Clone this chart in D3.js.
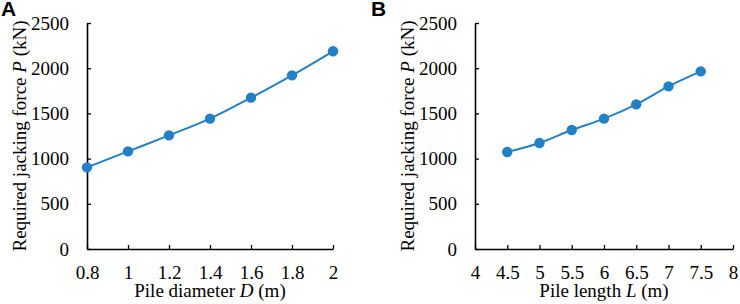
<!DOCTYPE html>
<html>
<head>
<meta charset="utf-8">
<script src="https://cdn.jsdelivr.net/npm/d3@7"></script>
<style>
  body { margin: 0; background: #fff; }
  svg { display: block; }
  .serif { font-family: "Liberation Serif", "DejaVu Serif", serif; }
</style>
</head>
<body>
<div id="chart"></div>
<script>
// Data
const diameters = [0.8, 1.0, 1.2, 1.4, 1.6, 1.8, 2.0];
const forceByDiameter = [903, 1080, 1257, 1442, 1674, 1921, 2187];
const lengths = [4.5, 5.0, 5.5, 6.0, 6.5, 7.0, 7.5];
const forceByLength = [1073, 1173, 1316, 1442, 1600, 1799, 1965];
const yTicks = [0, 500, 1000, 1500, 2000, 2500];
const xTicksA = [0.8, 1, 1.2, 1.4, 1.6, 1.8, 2];
const xTicksB = [4, 4.5, 5, 5.5, 6, 6.5, 7, 7.5, 8];

const width = 740, height = 304;
const lineColor = "#2380c5";

const svg = d3.select("#chart").append("svg")
    .attr("width", width)
    .attr("height", height);

/**
 * Draw one panel of the figure
 */
function drawPanel(opts) {
    const { left, right, top, bottom, xDomain, xTicks, xs, ys, letter, letterX, xLabel, xVar } = opts;

    const xScale = d3.scaleLinear().domain(xDomain).range([left, right]);
    const yScale = d3.scaleLinear().domain([0, 2500]).range([bottom, top]);

    const g = svg.append("g");

    // Axes (ticks pointing inside)
    const xAxis = g.append("g")
        .attr("transform", `translate(0,${bottom})`)
        .call(d3.axisBottom(xScale).tickValues(xTicks).tickSizeInner(-4).tickSizeOuter(0)
            .tickPadding(17).tickFormat(d3.format("")));
    const yAxis = g.append("g")
        .attr("transform", `translate(${left},0)`)
        .call(d3.axisLeft(yScale).tickValues(yTicks).tickSizeInner(-4).tickSizeOuter(0)
            .tickPadding(18).tickFormat(d3.format("")));

    [xAxis, yAxis].forEach(ax => {
        ax.attr("font-family", null).attr("font-size", null);
        ax.select(".domain").attr("stroke", "#000").attr("stroke-width", 1.6);
        ax.selectAll(".tick line").attr("stroke", "#000").attr("stroke-width", 1.3);
        ax.selectAll(".tick text")
            .attr("class", "serif")
            .attr("fill", "#000")
            .style("font-size", "19px");
    });

    // Data line (smoothed like the original)
    const pts = xs.map((x, i) => [x, ys[i]]);
    const line = d3.line()
        .x(d => xScale(d[0]))
        .y(d => yScale(d[1]))
        .curve(d3.curveCatmullRom);

    g.append("path")
        .datum(pts)
        .attr("fill", "none")
        .attr("stroke", lineColor)
        .attr("stroke-width", 2)
        .attr("d", line);

    g.selectAll("circle.pt")
        .data(pts)
        .enter().append("circle")
        .attr("class", "pt")
        .attr("cx", d => xScale(d[0]))
        .attr("cy", d => yScale(d[1]))
        .attr("r", 5.2)
        .attr("fill", lineColor);

    // X-axis label
    const xt = g.append("text")
        .attr("class", "serif")
        .attr("x", (left + right) / 2)
        .attr("y", 297)
        .attr("text-anchor", "middle")
        .style("font-size", "19px");
    xt.append("tspan").text(xLabel + " ");
    xt.append("tspan").attr("font-style", "italic").text(xVar);
    xt.append("tspan").text(" (m)");

    // Y-axis label
    const yt = g.append("text")
        .attr("class", "serif")
        .attr("transform", `translate(${left - 61},${(top + bottom) / 2}) rotate(-90)`)
        .attr("text-anchor", "middle")
        .style("font-size", "19px");
    yt.append("tspan").text("Required jacking force ");
    yt.append("tspan").attr("font-style", "italic").text("P");
    yt.append("tspan").text(" (kN)");

    // Panel letter
    g.append("text")
        .attr("x", letterX)
        .attr("y", 16)
        .style("font-family", "'Liberation Sans', Arial, sans-serif")
        .style("font-weight", "bold")
        .style("font-size", "21px")
        .text(letter);
}

drawPanel({
    left: 87, right: 333, top: 23, bottom: 249,
    xDomain: [0.8, 2], xTicks: xTicksA,
    xs: diameters, ys: forceByDiameter,
    letter: "A", letterX: 1,
    xLabel: "Pile diameter", xVar: "D"
});

drawPanel({
    left: 475, right: 733, top: 23, bottom: 249,
    xDomain: [4, 8], xTicks: xTicksB,
    xs: lengths, ys: forceByLength,
    letter: "B", letterX: 371,
    xLabel: "Pile length", xVar: "L"
});
</script>
</body>
</html>
